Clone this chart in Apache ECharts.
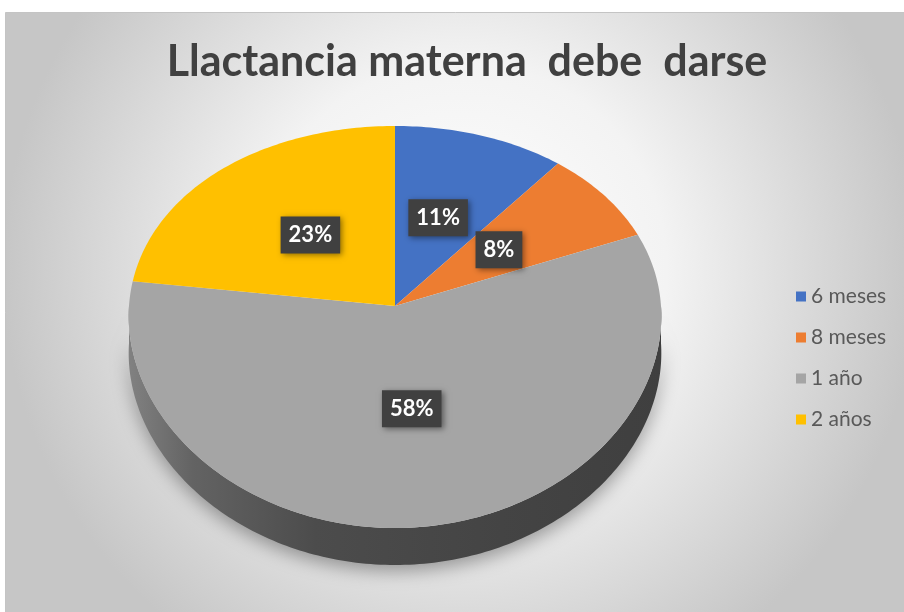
<!DOCTYPE html>
<html>
<head>
<meta charset="utf-8">
<script src="https://cdn.jsdelivr.net/npm/echarts@6/dist/echarts.min.js"></script>
<style>
html,body{margin:0;padding:0;background:#fff;}
#chart{width:904px;height:612px;}
</style>
</head>
<body>
<div id="chart"></div>
<script>
// ---- data ----
const titleText = 'Llactancia materna  debe  darse';
const categories = ['6 meses', '8 meses', '1 año', '2 años'];
const values = [11, 8, 58, 23];
const colors = ['#4472C4', '#ED7D31', '#A5A5A5', '#FFC000'];

// ---- geometry (3D pie projection) ----
const G = { cx: 395, cy: 306, rx: 266, ry: 201, persp: 21, depth: 37, labelR: 0.49 };
const FONT = 'Lato, "Open Sans", sans-serif';

const total = values.reduce((a, b) => a + b, 0);
function mapPt(deg, r) {
  const t = deg * Math.PI / 180;
  const u = r * Math.sin(t), v = -r * Math.cos(t);
  return [G.cx + G.rx * u * (1 + 0.05 * v), G.cy + G.ry * v + G.persp * v * v];
}
function shade(hex, f) {
  const n = parseInt(hex.slice(1), 16);
  const r = Math.round(((n >> 16) & 255) * f);
  const g = Math.round(((n >> 8) & 255) * f);
  const b = Math.round((n & 255) * f);
  return 'rgb(' + r + ',' + g + ',' + b + ')';
}

function makeRender(i) {
  return function (params, api) {
    const val = api.value(0);
    let before = 0;
    for (let k = 0; k < i; k++) before += values[k];
    const a0 = before / total * 360;
    const a1 = (before + val) / total * 360;
    const color = colors[i];
    const children = [];

    // side wall (front half only)
    const s = Math.max(a0, 90), e = Math.min(a1, 270);
    if (s < e) {
      const topPts = [];
      for (let d = s; d < e; d += 1) topPts.push(mapPt(d, 1));
      topPts.push(mapPt(e, 1));
      const botPts = topPts.slice().reverse().map(p => [p[0], p[1] + G.depth]);
      children.push({
        type: 'polygon',
        z2: 1,
        shape: { points: topPts.concat(botPts) },
        style: {
          fill: new echarts.graphic.LinearGradient(G.cx - G.rx, 0, G.cx + G.rx, 0, [
            { offset: 0, color: shade(color, 0.78) },
            { offset: 0.12, color: shade(color, 0.6) },
            { offset: 0.35, color: shade(color, 0.46) },
            { offset: 0.7, color: shade(color, 0.41) },
            { offset: 1, color: shade(color, 0.38) }
          ], true),
          shadowBlur: 18,
          shadowColor: 'rgba(0,0,0,0.35)',
          shadowOffsetY: 6
        }
      });
    }

    // top face
    const pts = [[G.cx, G.cy]];
    for (let d = a0; d < a1; d += 1) pts.push(mapPt(d, 1));
    pts.push(mapPt(a1, 1));
    children.push({
      type: 'polygon',
      z2: 10,
      shape: { points: pts },
      style: { fill: color }
    });

    // label
    const mid = (a0 + a1) / 2;
    const lp = mapPt(mid, G.labelR);
    children.push({
      type: 'text',
      z2: 20,
      x: lp[0],
      y: lp[1],
      style: {
        text: Math.round(val / total * 100) + '%',
        fill: '#ffffff',
        font: 'bold 22px ' + FONT,
        align: 'center',
        verticalAlign: 'middle',
        backgroundColor: '#404040',
        padding: [8, 8, 7, 8],
        shadowBlur: 6,
        shadowColor: 'rgba(0,0,0,0.45)',
        shadowOffsetX: 2,
        shadowOffsetY: 2
      }
    });
    return { type: 'group', children: children };
  };
}

const chart = echarts.init(document.getElementById('chart'), null, { renderer: 'canvas' });
chart.setOption({
  animation: false,
  graphic: [{
    type: 'rect',
    z: -10,
    silent: true,
    shape: { x: 5.5, y: 12.5, width: 910, height: 610 },
    style: {
      fill: new echarts.graphic.RadialGradient(0.5, 0.42, 0.75, [
        { offset: 0, color: '#ffffff' },
        { offset: 0.45, color: '#f3f3f3' },
        { offset: 1, color: '#c6c6c6' }
      ]),
      stroke: '#c4c4c4',
      lineWidth: 1
    }
  }],
  title: {
    text: titleText,
    left: 462,
    top: 36,
    textAlign: 'center',
    textStyle: { fontFamily: FONT, fontWeight: 'bold', fontSize: 43, color: '#404040' }
  },
  legend: {
    data: categories,
    orient: 'vertical',
    left: 791,
    top: 281,
    itemWidth: 10,
    itemHeight: 10,
    itemGap: 20,
    icon: 'rect',
    selectedMode: false,
    textStyle: { fontFamily: FONT, fontSize: 21, color: '#595959' }
  },
  series: categories.map((name, i) => ({
    type: 'custom',
    name: name,
    coordinateSystem: 'none',
    silent: true,
    itemStyle: { color: colors[i] },
    data: [values[i]],
    renderItem: makeRender(i)
  }))
});
</script>
</body>
</html>
